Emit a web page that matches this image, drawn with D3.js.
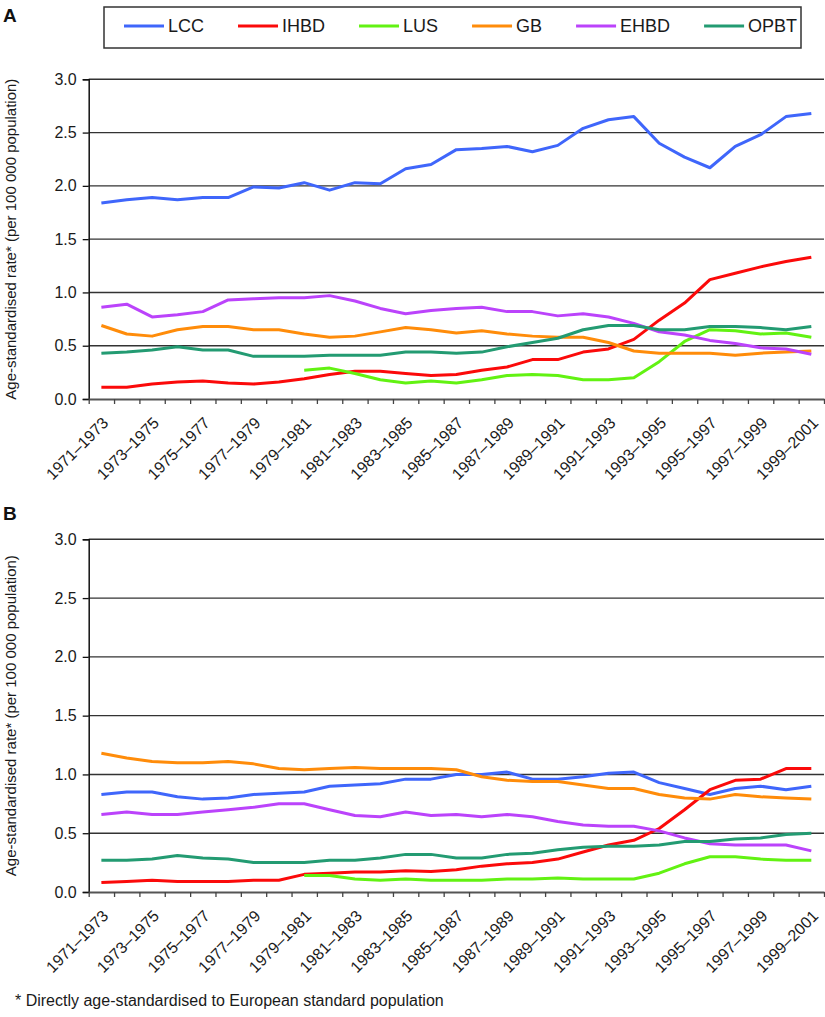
<!DOCTYPE html>
<html>
<head>
<meta charset="utf-8">
<script src="https://cdn.jsdelivr.net/npm/d3@7"></script>
<style>
  html, body { margin: 0; padding: 0; background: #fff; }
  svg { display: block; font-family: "Liberation Sans", Arial, Helvetica, sans-serif; }
</style>
</head>
<body>
<svg id="chart" width="825" height="1017"></svg>
<script>
// ---------- DATA ----------
const categories = ["1971–1973","1972–1974","1973–1975","1974–1976","1975–1977","1976–1978","1977–1979","1978–1980",
  "1979–1981","1980–1982","1981–1983","1982–1984","1983–1985","1984–1986","1985–1987","1986–1988","1987–1989",
  "1988–1990","1989–1991","1990–1992","1991–1993","1992–1994","1993–1995","1994–1996","1995–1997","1996–1998",
  "1997–1999","1998–2000","1999–2001"];
const xTickLabels = ["1971–1973","1973–1975","1975–1977","1977–1979","1979–1981","1981–1983","1983–1985",
  "1985–1987","1987–1989","1989–1991","1991–1993","1993–1995","1995–1997","1997–1999","1999–2001"];
const yTicks = [0, 0.5, 1.0, 1.5, 2.0, 2.5, 3.0];
const seriesNames = ["LCC","IHBD","LUS","GB","EHBD","OPBT"];
const seriesColors = ["#3f66fb","#fb0a0a","#62f212","#ff8c0a","#bb43fb","#239b72"];

// Panel A
const lccA  = [1.84,1.87,1.89,1.87,1.89,1.89,1.99,1.98,2.03,1.96,2.03,2.02,2.16,2.20,2.34,2.35,2.37,2.32,2.38,2.54,2.62,2.65,2.40,2.27,2.17,2.37,2.48,2.65,2.68];
const ihbdA = [0.11,0.11,0.14,0.16,0.17,0.15,0.14,0.16,0.19,0.23,0.26,0.26,0.24,0.22,0.23,0.27,0.30,0.37,0.37,0.44,0.47,0.56,0.74,0.90,1.12,1.18,1.24,1.29,1.33];
const lusA  = [null,null,null,null,null,null,null,null,0.27,0.29,0.24,0.18,0.15,0.17,0.15,0.18,0.22,0.23,0.22,0.18,0.18,0.20,0.35,0.54,0.65,0.64,0.61,0.62,0.58];
const gbA   = [0.69,0.61,0.59,0.65,0.68,0.68,0.65,0.65,0.61,0.58,0.59,0.63,0.67,0.65,0.62,0.64,0.61,0.59,0.58,0.58,0.53,0.45,0.43,0.43,0.43,0.41,0.43,0.44,0.45];
const ehbdA = [0.86,0.89,0.77,0.79,0.82,0.93,0.94,0.95,0.95,0.97,0.92,0.85,0.80,0.83,0.85,0.86,0.82,0.82,0.78,0.80,0.77,0.71,0.63,0.60,0.55,0.52,0.48,0.47,0.42];
const opbtA = [0.43,0.44,0.46,0.49,0.46,0.46,0.40,0.40,0.40,0.41,0.41,0.41,0.44,0.44,0.43,0.44,0.49,0.53,0.57,0.65,0.69,0.69,0.65,0.65,0.68,0.68,0.67,0.65,0.68];

// Panel B
const lccB  = [0.83,0.85,0.85,0.81,0.79,0.80,0.83,0.84,0.85,0.90,0.91,0.92,0.96,0.96,1.00,1.00,1.02,0.96,0.96,0.98,1.01,1.02,0.93,0.88,0.83,0.88,0.90,0.87,0.90];
const ihbdB = [0.08,0.09,0.10,0.09,0.09,0.09,0.10,0.10,0.15,0.16,0.17,0.17,0.18,0.175,0.19,0.22,0.24,0.25,0.28,0.34,0.40,0.44,0.54,0.70,0.87,0.95,0.96,1.05,1.05];
const lusB  = [null,null,null,null,null,null,null,null,0.14,0.14,0.11,0.10,0.11,0.10,0.10,0.10,0.11,0.11,0.12,0.11,0.11,0.11,0.16,0.24,0.30,0.30,0.28,0.27,0.27];
const gbB   = [1.18,1.14,1.11,1.10,1.10,1.11,1.09,1.05,1.04,1.05,1.06,1.05,1.05,1.05,1.04,0.98,0.95,0.94,0.94,0.91,0.88,0.88,0.83,0.80,0.79,0.83,0.81,0.80,0.79];
const ehbdB = [0.66,0.68,0.66,0.66,0.68,0.70,0.72,0.75,0.75,0.70,0.65,0.64,0.68,0.65,0.66,0.64,0.66,0.64,0.60,0.57,0.56,0.56,0.52,0.46,0.41,0.40,0.40,0.40,0.35];
const opbtB = [0.27,0.27,0.28,0.31,0.29,0.28,0.25,0.25,0.25,0.27,0.27,0.29,0.32,0.32,0.29,0.29,0.32,0.33,0.36,0.38,0.39,0.39,0.40,0.43,0.43,0.45,0.46,0.49,0.50];

const yLabel = "Age-standardised rate* (per 100 000 population)";
const footnote = "* Directly age-standardised to European standard population";

// ---------- DRAW ----------
const svg = d3.select("#chart");
const left = 88.7, right = 824;

function drawPanel(letter, letterY, top, bottom, seriesData) {
  const x = d3.scaleBand().domain(categories).range([left, right]).padding(0);
  const xIdx = d3.scaleLinear().domain([0, categories.length]).range([left, right]);
  const y = d3.scaleLinear().domain([0, 3]).range([bottom, top]);
  const g = svg.append("g");

  // gridlines
  g.selectAll("line.grid").data(yTicks.filter(v => v > 0)).enter().append("line")
    .attr("x1", left).attr("x2", right)
    .attr("y1", d => y(d)).attr("y2", d => y(d))
    .attr("stroke", "#333").attr("stroke-width", 1.4);

  // y axis
  const ya = g.append("g").attr("transform", `translate(${left},0)`)
    .call(d3.axisLeft(y).tickValues(yTicks).tickFormat(d3.format(".1f")).tickSize(6).tickPadding(6));
  ya.select(".domain").attr("stroke", "#111").attr("stroke-width", 1.5);
  ya.selectAll(".tick line").attr("stroke", "#111").attr("stroke-width", 1.3);
  ya.selectAll(".tick text").attr("font-size", 16).attr("fill", "#1a1a1a")
    .attr("font-family", "'Liberation Sans', Arial, sans-serif");

  // x axis (ticks at band boundaries)
  const xa = g.append("g").attr("transform", `translate(0,${bottom})`)
    .call(d3.axisBottom(xIdx).tickValues(d3.range(0, categories.length + 1)).tickFormat("").tickSize(5).tickSizeOuter(0));
  xa.select(".domain").attr("stroke", "#555").attr("stroke-width", 2);
  xa.selectAll(".tick line").attr("stroke", "#444").attr("stroke-width", 1.3);

  // x labels
  g.selectAll("text.xl").data(xTickLabels).enter().append("text")
    .attr("class", "xl")
    .attr("transform", d => `translate(${x(d) + x.bandwidth() / 2 + 8},${bottom + 25}) rotate(-45)`)
    .attr("text-anchor", "end")
    .attr("font-size", 16).attr("fill", "#1a1a1a")
    .text(d => d);

  // y label
  g.append("text")
    .attr("transform", `translate(16,${(top + bottom) / 2}) rotate(-90)`)
    .attr("text-anchor", "middle").attr("font-size", 15).attr("fill", "#1a1a1a")
    .text(yLabel);

  // panel letter
  g.append("text").attr("x", 3).attr("y", letterY)
    .attr("font-size", 19).attr("font-weight", "bold").attr("fill", "#111").text(letter);

  // lines
  const line = d3.line()
    .defined(d => d != null)
    .x((d, i) => x(categories[i]) + x.bandwidth() / 2)
    .y(d => y(d));
  seriesData.forEach((vals, k) => {
    g.append("path").datum(vals)
      .attr("d", line)
      .attr("fill", "none")
      .attr("stroke", seriesColors[k])
      .attr("stroke-width", 3)
      .attr("stroke-linejoin", "round")
      .attr("stroke-linecap", "butt");
  });
}

drawPanel("A", 22, 79.3, 399, [lccA, ihbdA, lusA, gbA, ehbdA, opbtA]);
drawPanel("B", 520, 539.3, 892, [lccB, ihbdB, lusB, gbB, ehbdB, opbtB]);

// legend
const lg = svg.append("g");
lg.append("rect").attr("x", 104).attr("y", 7).attr("width", 697).attr("height", 41)
  .attr("fill", "#fff").attr("stroke", "#333").attr("stroke-width", 1.5);
let lx = 124;
seriesNames.forEach((name, k) => {
  lg.append("line").attr("x1", lx).attr("x2", lx + 40).attr("y1", 26).attr("y2", 26)
    .attr("stroke", seriesColors[k]).attr("stroke-width", 3);
  const t = lg.append("text").attr("x", lx + 44).attr("y", 32)
    .attr("font-size", 18).attr("fill", "#1a1a1a").text(name);
  lx = lx + 44 + t.node().getComputedTextLength() + 34;
});

// footnote
svg.append("text").attr("x", 15).attr("y", 1006).attr("font-size", 16).attr("fill", "#1a1a1a").text(footnote);
</script>
</body>
</html>
